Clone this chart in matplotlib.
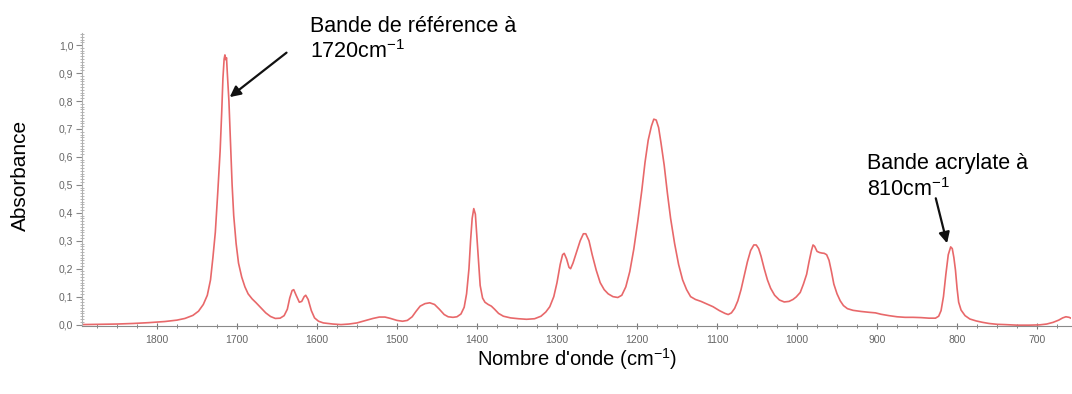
import matplotlib
matplotlib.use("Agg")
import matplotlib.pyplot as plt
from matplotlib.ticker import MultipleLocator, FuncFormatter

plt.rcParams['font.family'] = ['Liberation Sans', 'DejaVu Sans']
plt.rcParams['mathtext.fontset'] = 'custom'
plt.rcParams['mathtext.rm'] = 'Liberation Sans'
plt.rcParams['mathtext.it'] = 'Liberation Sans:italic'

# IR spectrum (wavenumber in cm-1, absorbance)
wavenumber = [
    1894, 1870, 1850, 1830, 1810, 1790, 1775, 1765, 1755, 1748, 1742, 1737,
    1733, 1730, 1727, 1724, 1721, 1719, 1717.5, 1716, 1715, 1714, 1713, 1712,
    1710, 1708, 1706, 1704, 1701, 1698, 1694, 1690, 1686, 1681, 1676, 1670,
    1664, 1658, 1652, 1646, 1641, 1637, 1634, 1631, 1629, 1626, 1622, 1619,
    1616, 1614, 1611, 1607, 1603, 1598, 1592, 1580, 1570, 1560, 1550, 1540,
    1530, 1522, 1515, 1508, 1500, 1493, 1487, 1481, 1476, 1471, 1465, 1459,
    1453, 1447, 1441, 1436, 1430, 1425, 1420, 1416, 1413, 1410, 1408, 1406,
    1404, 1402, 1400, 1398, 1396, 1393, 1390, 1386, 1382, 1378, 1373, 1367,
    1358, 1348, 1338, 1328, 1320, 1314, 1309, 1304, 1300, 1296, 1293, 1291,
    1288, 1285, 1283, 1280, 1276, 1271, 1267, 1264, 1260, 1256, 1251, 1246,
    1241, 1236, 1230, 1224, 1219, 1214, 1209, 1204, 1199, 1194, 1190, 1186,
    1182, 1179, 1176, 1173, 1170, 1166, 1162, 1158, 1153, 1148, 1143, 1138,
    1133, 1127, 1120, 1112, 1105, 1097, 1090, 1086, 1082, 1078, 1074, 1070,
    1066, 1062, 1058, 1054, 1051, 1048, 1045, 1041, 1037, 1033, 1028, 1022,
    1016, 1010, 1005, 1001, 996, 992, 988, 985, 982, 980, 978, 975,
    972, 969, 966, 963, 960, 957, 954, 950, 946, 942, 937, 930,
    920, 910, 902, 895, 885, 875, 865, 855, 845, 835, 827, 823,
    820, 817, 814, 811, 808, 806, 804, 802, 800, 798, 795, 790,
    784, 776, 768, 760, 750, 740, 725, 710, 697, 688, 680, 673,
    668, 664, 660, 657,
]
absorbance = [
    0.000, 0.001, 0.002, 0.004, 0.007, 0.011, 0.016, 0.022, 0.033, 0.048, 0.072, 0.105,
    0.160, 0.240, 0.330, 0.470, 0.620, 0.760, 0.880, 0.950, 0.965, 0.948, 0.955, 0.900,
    0.800, 0.650, 0.500, 0.390, 0.290, 0.220, 0.170, 0.135, 0.110, 0.092, 0.078, 0.060,
    0.042, 0.029, 0.022, 0.023, 0.032, 0.055, 0.095, 0.122, 0.125, 0.105, 0.080, 0.083,
    0.100, 0.105, 0.090, 0.050, 0.024, 0.012, 0.006, 0.002, 0.000, 0.002, 0.006, 0.014,
    0.022, 0.027, 0.027, 0.022, 0.015, 0.012, 0.015, 0.028, 0.048, 0.066, 0.075, 0.078,
    0.072, 0.055, 0.036, 0.028, 0.026, 0.028, 0.038, 0.062, 0.110, 0.200, 0.300, 0.380,
    0.415, 0.395, 0.310, 0.220, 0.140, 0.095, 0.080, 0.072, 0.066, 0.055, 0.040, 0.030,
    0.024, 0.021, 0.019, 0.021, 0.030, 0.045, 0.064, 0.100, 0.150, 0.215, 0.250, 0.255,
    0.235, 0.205, 0.200, 0.220, 0.255, 0.300, 0.325, 0.325, 0.300, 0.250, 0.195, 0.150,
    0.125, 0.110, 0.100, 0.097, 0.105, 0.135, 0.190, 0.270, 0.370, 0.480, 0.580, 0.660,
    0.710, 0.735, 0.732, 0.705, 0.650, 0.570, 0.470, 0.380, 0.290, 0.215, 0.160, 0.125,
    0.100, 0.090, 0.083, 0.073, 0.064, 0.050, 0.040, 0.036, 0.042, 0.058, 0.085, 0.125,
    0.175, 0.225, 0.265, 0.285, 0.285, 0.272, 0.245, 0.200, 0.160, 0.130, 0.105, 0.088,
    0.081, 0.083, 0.090, 0.099, 0.115, 0.145, 0.180, 0.225, 0.265, 0.285, 0.280, 0.262,
    0.258, 0.256, 0.255, 0.250, 0.230, 0.190, 0.145, 0.110, 0.085, 0.068, 0.057, 0.051,
    0.047, 0.044, 0.042, 0.037, 0.032, 0.028, 0.026, 0.026, 0.025, 0.023, 0.023, 0.030,
    0.050, 0.100, 0.180, 0.250, 0.278, 0.272, 0.240, 0.195, 0.130, 0.080, 0.052, 0.032,
    0.020, 0.013, 0.008, 0.004, 0.001, 0.000, -0.002, -0.002, -0.001, 0.002, 0.008, 0.016,
    0.024, 0.028, 0.026, 0.022,
]

fig = plt.figure(figsize=(10.72, 3.94), dpi=100)
ax = fig.add_axes([0.0762, 0.1726, 0.9228, 0.7434])

ax.plot(wavenumber, absorbance, color='#e8686a', lw=1.2)

ax.set_xlim(1894, 657.7)
ax.set_ylim(-0.005, 1.043)

ax.xaxis.set_major_locator(MultipleLocator(100))
ax.xaxis.set_minor_locator(MultipleLocator(25))
ax.yaxis.set_major_locator(MultipleLocator(0.1))
ax.yaxis.set_minor_locator(MultipleLocator(0.01))
ax.yaxis.set_major_formatter(FuncFormatter(lambda v, p: f'{v:.1f}'.replace('.', ',')))

for s in ['top', 'right']:
    ax.spines[s].set_visible(False)
ax.spines['bottom'].set_color('#8a8a8a')
ax.spines['left'].set_color('#b0b0b0')
ax.spines['left'].set_linewidth(0.8)

ax.tick_params(axis='x', which='major', direction='inout', length=5, width=0.8,
               color='#777777', labelsize=7.5, labelcolor='#666666', pad=4)
ax.tick_params(axis='x', which='minor', direction='inout', length=3, width=0.7,
               color='#888888')
ax.tick_params(axis='y', which='major', direction='out', length=4, width=0.8,
               color='#888888', labelsize=7.5, labelcolor='#666666', pad=2)
ax.tick_params(axis='y', which='minor', direction='inout', length=2.5, width=0.6,
               color='#aaaaaa')

fig.text(577 / 1072, 1 - 359 / 394, "Nombre d'onde (cm$^{-1}$)",
         ha='center', va='center', fontsize=14.5)
fig.text(20 / 1072, 1 - 175 / 394, 'Absorbance', rotation=90,
         ha='center', va='center', fontsize=15)

ax.text(1609, 1.105, 'Bande de référence à\n1720cm$^{-1}$', ha='left', va='top',
        fontsize=15.5, clip_on=False)
ax.annotate('', xy=(1709, 0.814), xytext=(1638, 0.973),
            arrowprops=dict(arrowstyle='-|>', color='#111111', lw=1.6,
                            mutation_scale=16, shrinkA=0, shrinkB=0))

ax.text(912.4, 0.6125, 'Bande acrylate à\n810cm$^{-1}$', ha='left', va='top',
        fontsize=15.5, clip_on=False)
ax.annotate('', xy=(812.5, 0.291), xytext=(826.6, 0.452),
            arrowprops=dict(arrowstyle='-|>', color='#111111', lw=1.6,
                            mutation_scale=16, shrinkA=0, shrinkB=0))

fig.savefig('out.png', dpi=100)
